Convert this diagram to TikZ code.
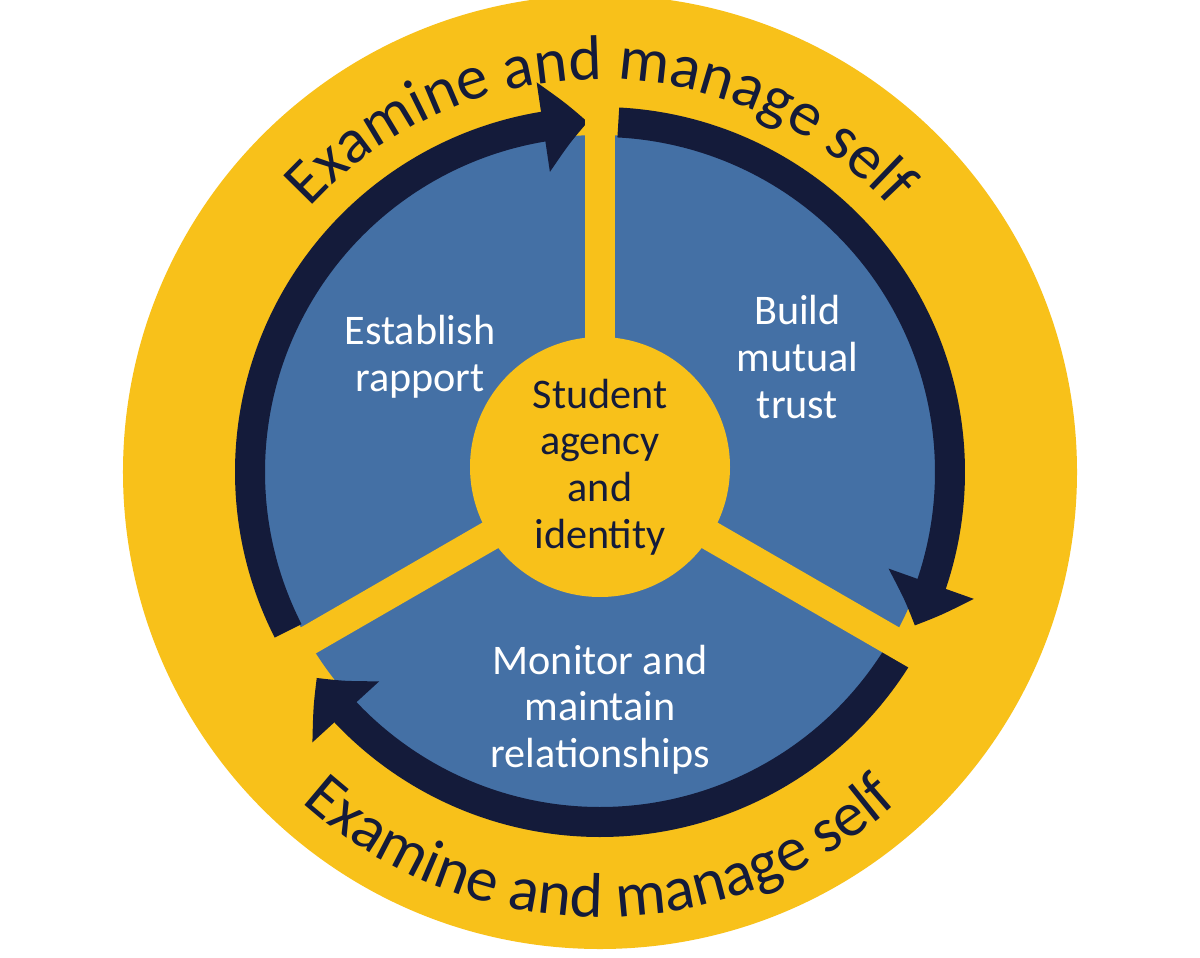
\documentclass[tikz,border=0pt]{standalone}
\usepackage{fontspec}
\setmainfont{Carlito}
\usetikzlibrary{arrows.meta,bending,decorations.text}
\definecolor{gold}{HTML}{F8C11A}
\definecolor{steel}{HTML}{4470A5}
\definecolor{navy}{HTML}{141B3A}
\tikzset{
  ring/.style={navy,line width=0.6cm,-{Triangle[width=1.75cm,length=0.9cm,bend]}},
  spoke/.style={gold,line width=0.6cm},
  stage/.style={white,align=center,font=\fontsize{24}{26.5}\selectfont},
}
\begin{document}
\begin{tikzpicture}
\useasboundingbox (-12,-9.7) rectangle (12,9.44);
\fill[white] (-12,-9.7) rectangle (12,9.44);
\fill[gold] (0,0) circle (9.54);
\fill[steel] (0,0) circle (6.74);
% three arrows of the cycle
\draw[ring] (207:7) arc (207:92:7);
\draw[ring] (87:7) arc (87:-26:7);
\draw[ring] (-32:7) arc (-32:-144:7);
% spokes
\foreach \a in {90,-30,210}
  \draw[spoke] (0,0) -- (\a:7.4);
\node[circle,fill=gold,minimum size=5.2cm,inner sep=0pt,align=center,
      font=\fontsize{24}{26.5}\selectfont,text=navy] (core) at (0,0.1)
      {Student\\agency\\and\\identity};
\node[stage] (rapport) at (-3.6,2.3) {Establish\\rapport};
\node[stage] (trust) at (3.95,2.3) {Build\\mutual\\trust};
\node[stage] (monitor) at (0,-4.75) {Monitor and\\maintain\\relationships};
% outer text
\path[decorate,decoration={text along path,text align=center,
  text={|\fontsize{36}{36}\selectfont\color{navy}|Examine and manage self}}]
  (165:7.85) arc (165:15:7.85);
\path[decorate,decoration={text along path,text align=center,
  text={|\fontsize{36}{36}\selectfont\color{navy}|Examine and manage self}}]
  (205:8.9) arc (205:335:8.9);
\end{tikzpicture}
\end{document}
